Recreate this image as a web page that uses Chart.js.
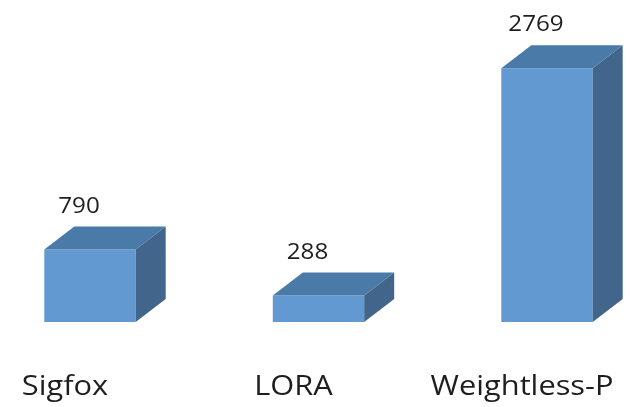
<!DOCTYPE html>
<html>
<head>
<meta charset="utf-8">
<script src="https://cdn.jsdelivr.net/npm/chart.js@4/dist/chart.umd.min.js"></script>
<style>
  html, body { margin: 0; padding: 0; background: #fff; }
  canvas { display: block; }
</style>
</head>
<body>
<canvas id="chart" width="630" height="407"></canvas>
<script>
const categories = ['Sigfox', 'LORA', 'Weightless-P'];
const values = [790, 288, 2769];
const yMax = 3000;

// colours of the three faces
const frontColor = '#6399d1';
const topColor = '#4a7aa8';
const sideColor = '#41658b';

// depth of the fake 3D box
const depthX = 30;
const depthY = 23;

// the source text looks a bit stretched sideways
function wideText(ctx, text, x, y, stretch) {
    ctx.save();
    ctx.translate(x, y);
    ctx.scale(stretch, 1);
    ctx.fillText(text, 0, 0);
    ctx.restore();
}

const box3d = {
    id: 'box3d',
    afterDatasetsDraw(chart) {
        const ctx = chart.ctx;
        const meta = chart.getDatasetMeta(0);
        ctx.save();
        meta.data.forEach((bar, i) => {
            const half = bar.width / 2;
            const left = bar.x - half;
            const right = bar.x + half;
            const top = bar.y;
            const bottom = bar.base;

            // top face
            ctx.fillStyle = topColor;
            ctx.beginPath();
            ctx.moveTo(left, top);
            ctx.lineTo(left + depthX, top - depthY);
            ctx.lineTo(right + depthX, top - depthY);
            ctx.lineTo(right, top);
            ctx.closePath();
            ctx.fill();

            // side face
            ctx.fillStyle = sideColor;
            ctx.beginPath();
            ctx.moveTo(right, top);
            ctx.lineTo(right + depthX, top - depthY);
            ctx.lineTo(right + depthX, bottom - depthY);
            ctx.lineTo(right, bottom);
            ctx.closePath();
            ctx.fill();

            // value above the box
            ctx.fillStyle = '#1e1e1e';
            ctx.font = '22px "Open Sans", sans-serif';
            ctx.textAlign = 'center';
            ctx.textBaseline = 'alphabetic';
            wideText(ctx, String(values[i]), bar.x - 11, top - depthY - 14, 1.1);

            // category name under the box
            ctx.font = '28px "Open Sans", sans-serif';
            wideText(ctx, categories[i], bar.x - 25, 395, 1.1);
        });
        ctx.restore();
    }
};

new Chart(document.getElementById('chart').getContext('2d'), {
    type: 'bar',
    data: {
        labels: categories,
        datasets: [{
            data: values,
            backgroundColor: frontColor,
            borderWidth: 0,
            categoryPercentage: 0.8,
            barPercentage: 0.5,
            clip: false
        }]
    },
    options: {
        responsive: false,
        animation: false,
        layout: {
            padding: { left: 90, right: 83, top: 47, bottom: 85 }
        },
        plugins: {
            legend: { display: false },
            tooltip: { enabled: false }
        },
        scales: {
            x: { display: false, offset: false },
            y: { display: false, min: 0, max: yMax }
        }
    },
    plugins: [box3d]
});
</script>
</body>
</html>
